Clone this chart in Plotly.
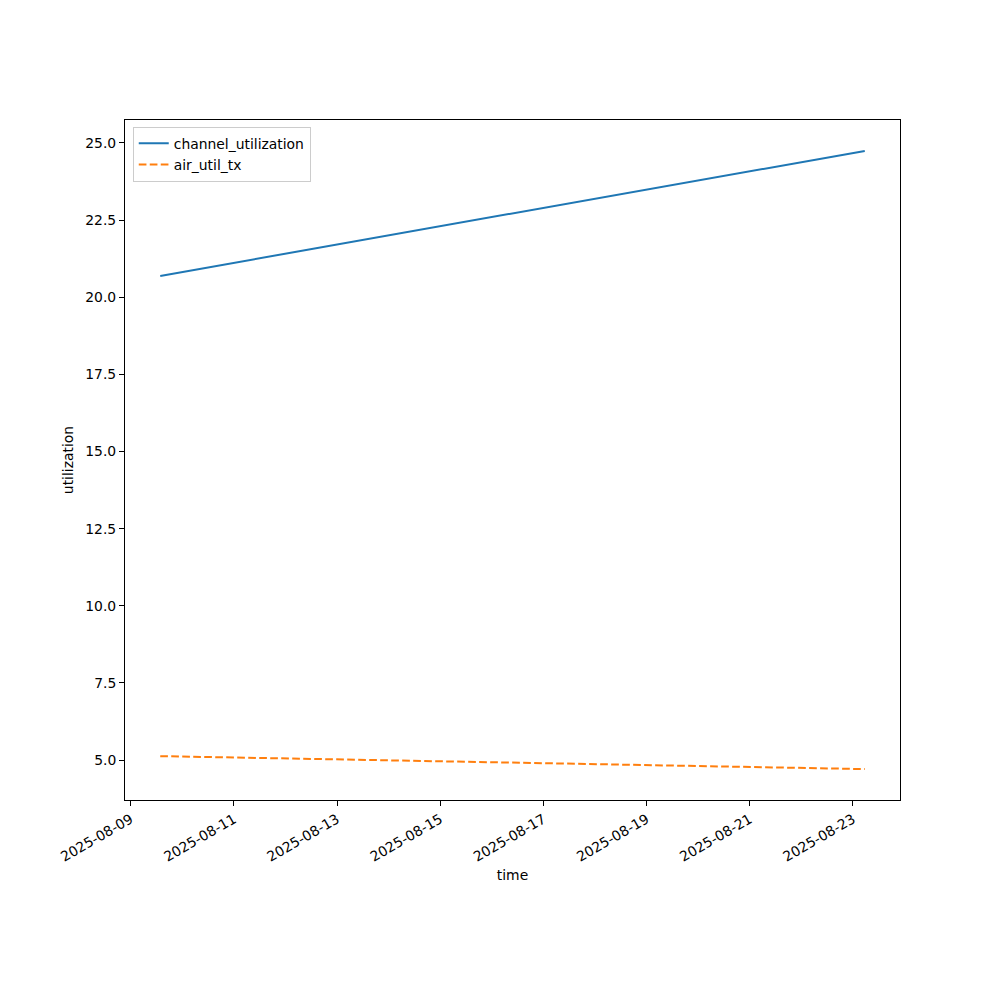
import plotly.graph_objects as go
import pandas as pd

time = ["2025-08-09 13:45", "2025-08-23 05:30"]
channel_utilization = [20.69, 24.74]
air_util_tx = [5.13, 4.71]

t = pd.to_datetime(time)
span = t.max() - t.min()
xr = [t.min() - span * 0.05, t.max() + span * 0.05]
allv = channel_utilization + air_util_tx
vs = max(allv) - min(allv)
yr = [min(allv) - vs * 0.05, max(allv) + vs * 0.05]

fig = go.Figure()
fig.add_trace(go.Scatter(x=t, y=channel_utilization, mode="lines", name="channel_utilization",
                         line=dict(color="#1f77b4", width=2)))
fig.add_trace(go.Scatter(x=t, y=air_util_tx, mode="lines", name="air_util_tx",
                         line=dict(color="#ff7f0e", width=2, dash="7.7px,3.3px")))

axis_common = dict(showline=True, linecolor="black", linewidth=1, mirror=True,
                   ticks="outside", ticklen=5, tickcolor="black", showgrid=False,
                   zeroline=False, tickfont=dict(size=13.9, color="black"))

fig.update_layout(
    width=1000, height=1000,
    plot_bgcolor="white", paper_bgcolor="white",
    font=dict(family="DejaVu Sans", size=13.9, color="black"),
    margin=dict(l=117, r=108, t=112, b=208),
    xaxis=dict(range=[xr[0].strftime("%Y-%m-%d %H:%M:%S"), xr[1].strftime("%Y-%m-%d %H:%M:%S")],
               tick0="2025-08-09", dtick=2 * 86400000, tickformat="%Y-%m-%d", tickangle=-30,
               title=dict(text="time", font=dict(size=13.9), standoff=6), **axis_common),
    yaxis=dict(range=yr, tick0=0, dtick=2.5, tickformat=".1f",
               title=dict(text="utilization", font=dict(size=13.9), standoff=8), **axis_common),
    legend=dict(x=0.01, y=0.99, xanchor="left", yanchor="top", bgcolor="rgba(255,255,255,0.8)",
                bordercolor="#cccccc", borderwidth=1, font=dict(size=13.9),
                tracegroupgap=0),
    showlegend=True,
)

fig.write_html("out.html")
